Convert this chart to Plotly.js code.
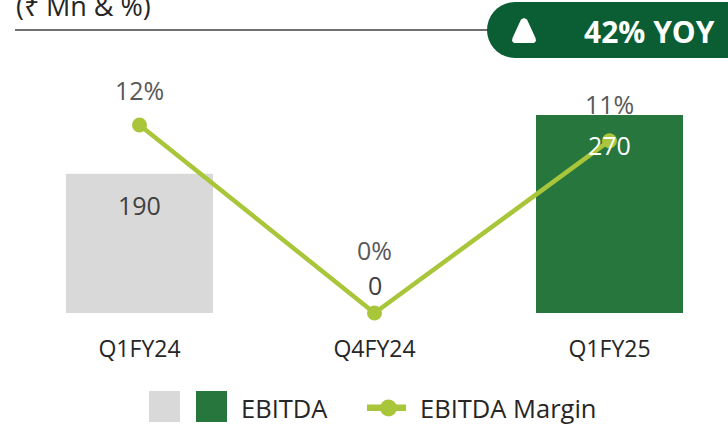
<!DOCTYPE html>
<html>
<head>
<meta charset="utf-8">
<script src="https://cdn.plot.ly/plotly-3.0.1.min.js"></script>
<style>html,body{margin:0;padding:0;background:#fff;overflow:hidden}</style>
</head>
<body>
<div id="chart" style="width:728px;height:426px"></div>
<script>
const categories = ['Q1FY24', 'Q4FY24', 'Q1FY25'];
const ebitda = [190, 0, 270];
const margin = [12, 0, 11];
const barColors = ['#d9d9d9', '#d9d9d9', '#27763d'];
const barLabelColors = ['#404040', '#404040', '#ffffff'];
const barLabelShift = [-31, 28, -30];
const marginLabelShift = [35, 63, 37];

const W = 728, H = 426, L = 22, R = 1, T = 60, B = 113;
const px = x => (x - L) / (W - L - R);
const py = y => (H - B - y) / (H - T - B);
const FONT = '"Open Sans", sans-serif';

const rect = (x0, y0, x1, y1, color) => ({type:'rect', xref:'paper', yref:'paper', x0:px(x0), x1:px(x1), y0:py(y0), y1:py(y1), fillcolor:color, line:{width:0}, layer:'above'});
const note = (text, x, y, size, color, anchor) => ({text, xref:'paper', yref:'paper', x:px(x), y:py(y), xanchor:anchor, yanchor:'middle', showarrow:false, font:{family:FONT, size, color}});
const pathOf = pts => pts.map((p, i) => (i ? 'L' : 'M') + px(p[0]) + ',' + py(p[1])).join(' ') + ' Z';

// Badge: a rounded pill, left end sampled in pixels, running off the right edge
const pill = [];
for (let a = 90; a <= 270; a += 10) { const r = a * Math.PI / 180; pill.push([515 + 28 * Math.cos(r), 30 - 28 * Math.sin(r)]); }
pill.push([728, 58], [728, 2]);
const triangle = [[521,19.5],[524,18],[527,19.5],[535.5,38],[536,41],[534,43],[514,43],[512,41],[512.5,38]];

const traces = [
  {type:'bar', x:categories, y:ebitda, marker:{color:barColors, line:{width:0}}, width:0.6255, yaxis:'y', hoverinfo:'x+y', showlegend:false},
  {type:'scatter', mode:'lines+markers', x:categories, y:margin, yaxis:'y2', cliponaxis:false, line:{color:'#a9c63a', width:4.5}, marker:{color:'#a9c63a', size:15}, hoverinfo:'x+y', showlegend:false}
];

const annotations = [];
categories.forEach((c, i) => {
  annotations.push({text:String(ebitda[i]), x:c, y:ebitda[i], xref:'x', yref:'y', yshift:barLabelShift[i], showarrow:false, font:{family:FONT, size:25, color:barLabelColors[i]}});
  annotations.push({text:margin[i] + '%', x:c, y:margin[i], xref:'x', yref:'y2', yshift:marginLabelShift[i], showarrow:false, font:{family:FONT, size:25, color:'#595959'}});
});
annotations.push(
  note('(₹ Mn &amp; %)', 14, 6, 27, '#262626', 'left'),
  note('<b>42% YOY</b>', 582, 31, 30, '#ffffff', 'left'),
  note('EBITDA', 239, 408, 25.5, '#262626', 'left'),
  note('EBITDA Margin', 418, 408, 25.5, '#262626', 'left')
);

const shapes = [
  {type:'line', xref:'paper', yref:'paper', x0:px(15), x1:px(490), y0:py(30), y1:py(30), line:{color:'#404040', width:1.5}, layer:'above'},
  {type:'path', xref:'paper', yref:'paper', path:pathOf(pill), fillcolor:'#0b5d33', line:{width:0}, layer:'above'},
  {type:'path', xref:'paper', yref:'paper', path:pathOf(triangle), fillcolor:'#ffffff', line:{width:0}, layer:'above'},
  rect(149, 391, 180, 422, '#d9d9d9'),
  rect(196, 391, 227, 422, '#27763d'),
  rect(367, 404.5, 406, 411, '#a9c63a'),
  {type:'circle', xref:'paper', yref:'paper', x0:px(380), x1:px(397), y0:py(399.5), y1:py(416.5), fillcolor:'#a9c63a', line:{width:0}, layer:'above'}
];

const layout = {
  width:W, height:H, margin:{l:L, r:R, t:T, b:B, pad:0},
  paper_bgcolor:'#ffffff', plot_bgcolor:'#ffffff',
  showlegend:false,
  font:{family:FONT, color:'#262626'},
  xaxis:{type:'category', categoryorder:'array', categoryarray:categories, showgrid:false, showline:false, zeroline:false, ticks:'outside', ticklen:15, tickcolor:'rgba(0,0,0,0)', tickfont:{family:FONT, size:23, color:'#262626'}, automargin:false},
  yaxis:{range:[0, 345], visible:false, fixedrange:true},
  yaxis2:{range:[0, 16.15], visible:false, overlaying:'y', side:'right', fixedrange:true},
  annotations, shapes
};
Plotly.newPlot('chart', traces, layout, {displayModeBar:false, responsive:false});
</script>
</body>
</html>
